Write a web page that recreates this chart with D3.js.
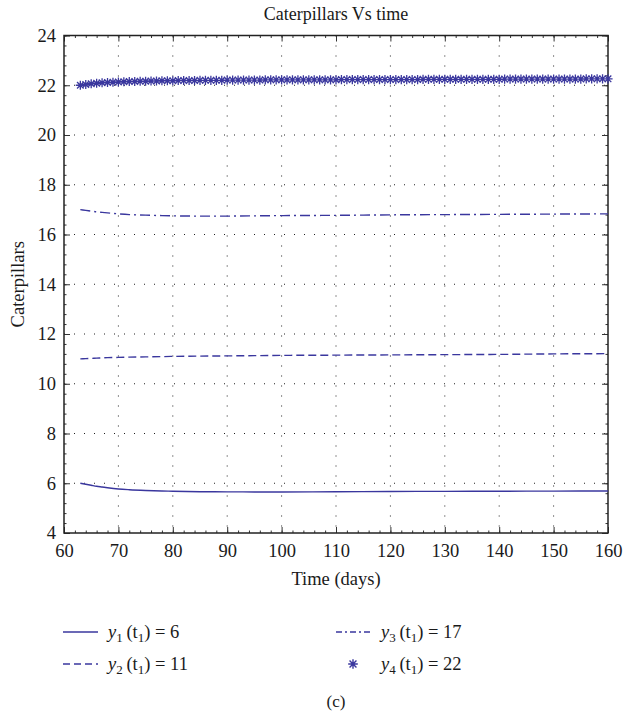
<!DOCTYPE html>
<html><head><meta charset="utf-8">
<script src="https://cdn.jsdelivr.net/npm/d3@7"></script>
<style>body{margin:0;background:#fff}svg{display:block}</style>
</head><body>
<script>
// ---- data ----
const title = "Caterpillars Vs time";
const xLabel = "Time (days)";
const yLabel = "Caterpillars";
const xTicks = [60,70,80,90,100,110,120,130,140,150,160];
const yTicks = [4,6,8,10,12,14,16,18,20,22,24];
const tLine = [63,64,65,66,67,68,70,72,75,78,80,85,90,95,100,110,120,130,140,150,160];
const y1 = [6.00,5.96,5.92,5.88,5.85,5.82,5.77,5.74,5.71,5.69,5.68,5.66,5.655,5.65,5.65,5.66,5.67,5.675,5.68,5.685,5.69];
const y2 = [11.00,11.01,11.02,11.03,11.04,11.05,11.06,11.07,11.08,11.09,11.10,11.11,11.12,11.13,11.14,11.15,11.16,11.17,11.18,11.20,11.21];
const y3 = [17.00,16.97,16.94,16.91,16.89,16.87,16.83,16.80,16.78,16.76,16.75,16.74,16.74,16.75,16.76,16.77,16.79,16.80,16.81,16.82,16.83];
const tStar = [63,64,65,66,67,68,69,70,71,72,73,74,75,76,77,78,79,80,81,82,83,84,85,86,87,88,89,90,
  91,92,93,94,95,96,97,98,99,100,101,102,103,104,105,106,107,108,109,110,111,112,113,114,115,116,117,118,119,120,
  121,122,123,124,125,126,127,128,129,130,131,132,133,134,135,136,137,138,139,140,141,142,143,144,145,146,147,148,149,150,
  151,152,153,154,155,156,157,158,159,160];
const y4 = [22.00,22.03,22.06,22.08,22.10,22.11,22.12,22.13,22.14,22.15,22.15,22.16,22.16,22.17,22.17,22.18,22.18,22.18,
  22.19,22.19,22.19,22.19,22.20,22.20,22.20,22.20,22.20,22.21,
  22.21,22.21,22.21,22.21,22.21,22.21,22.22,22.22,22.22,22.22,
  22.22,22.22,22.22,22.22,22.22,22.22,22.22,22.22,22.22,22.22,
  22.23,22.23,22.23,22.23,22.23,22.23,22.23,22.23,22.23,22.23,
  22.23,22.23,22.23,22.23,22.23,22.24,22.24,22.24,22.24,22.24,
  22.24,22.24,22.24,22.24,22.24,22.24,22.24,22.24,22.24,22.24,
  22.25,22.25,22.25,22.25,22.25,22.25,22.25,22.25,22.25,22.25,
  22.25,22.25,22.25,22.25,22.25,22.26,22.26,22.26,22.26,22.26];
const legendItems = [
  {sub:"1", val:"6", type:"solid"},
  {sub:"2", val:"11", type:"dash"},
  {sub:"3", val:"17", type:"dashdot"},
  {sub:"4", val:"22", type:"star"}
];

// ---- layout ----
const W = 623, H = 716;
const m = {left:64, right:608, top:35.5, bottom:533};
const color = "#3a379e";
const font = "'Liberation Serif', 'DejaVu Serif', serif";
const txt = "#1a1a1a";

const svg = d3.select("body").append("svg").attr("width", W).attr("height", H)
  .style("font-family", font);

const x = d3.scaleLinear().domain([60,160]).range([m.left, m.right]);
const y = d3.scaleLinear().domain([4,24]).range([m.bottom, m.top]);

// grid
const grid = svg.append("g").attr("stroke", "#222").attr("stroke-width", 1).attr("stroke-dasharray", "1,9");
xTicks.slice(1,-1).forEach(v => grid.append("line").attr("x1", x(v)).attr("x2", x(v)).attr("y1", m.top).attr("y2", m.bottom));
yTicks.slice(1,-1).forEach(v => grid.append("line").attr("y1", y(v)).attr("y2", y(v)).attr("x1", m.left).attr("x2", m.right));

// axes (ticks inward)
const minorX = d3.range(60, 160.001, 2);
const minorY = d3.range(4, 24.001, 0.4);
function axisG(axis, tx, ty) {
  const g = svg.append("g").attr("transform", `translate(${tx},${ty})`).call(axis);
  g.select(".domain").remove();
  g.selectAll("line").attr("stroke", "#333").attr("stroke-width", 1);
  return g;
}
axisG(d3.axisBottom(x).tickValues(minorX).tickSize(-2.5).tickFormat(""), 0, m.bottom);
axisG(d3.axisTop(x).tickValues(minorX).tickSize(-2.5).tickFormat(""), 0, m.top);
axisG(d3.axisLeft(y).tickValues(minorY).tickSize(-2.5).tickFormat(""), m.left, 0);
axisG(d3.axisRight(y).tickValues(minorY).tickSize(-2.5).tickFormat(""), m.right, 0);

const xb = axisG(d3.axisBottom(x).tickValues(xTicks).tickSize(-6).tickPadding(11).tickFormat(d3.format("d")), 0, m.bottom);
xb.selectAll("text").attr("font-size", 18.5).attr("fill", txt).attr("font-family", font);
axisG(d3.axisTop(x).tickValues(xTicks).tickSize(-6).tickFormat(""), 0, m.top);
const yl = axisG(d3.axisLeft(y).tickValues(yTicks).tickSize(-6).tickPadding(8).tickFormat(d3.format("d")), m.left, 0);
yl.selectAll("text").attr("font-size", 18.5).attr("fill", txt).attr("font-family", font);
axisG(d3.axisRight(y).tickValues(yTicks).tickSize(-6).tickFormat(""), m.right, 0);

// frame
svg.append("rect").attr("x", m.left).attr("y", m.top).attr("width", m.right - m.left).attr("height", m.bottom - m.top)
  .attr("fill", "none").attr("stroke", "#222").attr("stroke-width", 1.5);

// lines
const line = (ys) => d3.line().x((d,i) => x(tLine[i])).y(d => y(d)).curve(d3.curveMonotoneX)(ys);
const dashes = {solid:null, dash:"8,4", dashdot:"10,4,2,4"};
[[y1,"solid"],[y2,"dash"],[y3,"dashdot"]].forEach(([ys,t]) => {
  svg.append("path").attr("d", line(ys)).attr("fill","none").attr("stroke", color).attr("stroke-width", 1.4)
    .attr("stroke-dasharray", dashes[t]);
});

// stars
function starPath(cx, cy, r) {
  const d = r * 0.72;
  return `M${cx-r},${cy}L${cx+r},${cy}M${cx},${cy-r}L${cx},${cy+r}M${cx-d},${cy-d}L${cx+d},${cy+d}M${cx-d},${cy+d}L${cx+d},${cy-d}`;
}
svg.append("path").attr("d", y4.map((v,i) => starPath(x(tStar[i]), y(v), 4.6)).join(""))
  .attr("stroke", color).attr("stroke-width", 1.3).attr("fill", "none");

// title & labels
svg.append("text").attr("x", (m.left + m.right)/2).attr("y", 20).attr("text-anchor","middle")
  .attr("font-size", 18).attr("fill", txt).text(title);
svg.append("text").attr("x", (m.left + m.right)/2).attr("y", 585).attr("text-anchor","middle")
  .attr("font-size", 18.5).attr("fill", txt).text(xLabel);
svg.append("text").attr("transform", `translate(24,${(m.top+m.bottom)/2}) rotate(-90)`).attr("text-anchor","middle")
  .attr("font-size", 18.5).attr("fill", txt).text(yLabel);

// legend
const legPos = [{x:63,y:632},{x:63,y:664},{x:336,y:632},{x:336,y:664}];
legendItems.forEach((it, i) => {
  const p = legPos[i];
  const g = svg.append("g");
  if (it.type === "star") {
    g.append("path").attr("d", starPath(p.x + 17, p.y, 4.8)).attr("stroke", color).attr("stroke-width", 1.4).attr("fill","none");
  } else {
    g.append("line").attr("x1", p.x).attr("x2", p.x + 35).attr("y1", p.y).attr("y2", p.y)
      .attr("stroke", color).attr("stroke-width", 1.4).attr("stroke-dasharray", it.type==="dash" ? "7,4" : it.type==="dashdot" ? "6,3,2,3" : null);
  }
  const t = g.append("text").attr("x", p.x + 45).attr("y", p.y + 6).attr("font-size", 18.5).attr("fill", txt);
  t.append("tspan").attr("font-style","italic").text("y");
  t.append("tspan").attr("font-size", 13).attr("dy", 4).text(it.sub);
  t.append("tspan").attr("dy", -4).text("\u2009(t");
  t.append("tspan").attr("font-size", 13).attr("dy", 4).text("1");
  t.append("tspan").attr("dy", -4).text(") = " + it.val);
});

svg.append("text").attr("x", 336).attr("y", 707).attr("text-anchor","middle").attr("font-size", 17).attr("fill", txt).text("(c)");
</script>
</body></html>
